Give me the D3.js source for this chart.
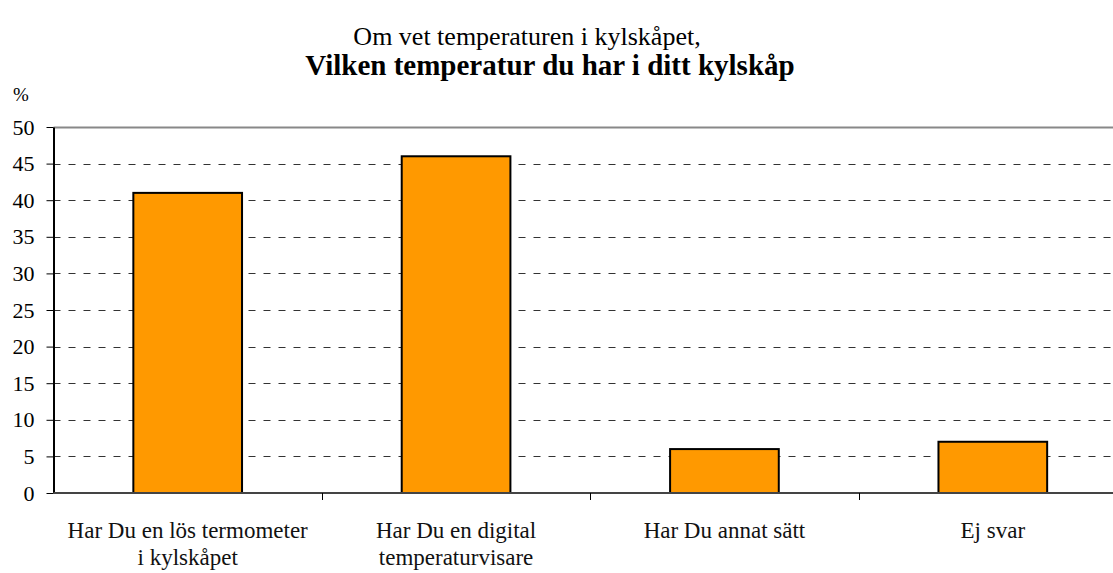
<!DOCTYPE html>
<html lang="sv">
<head>
  <meta charset="UTF-8">
  <title>Vilken temperatur du har i ditt kylskåp</title>
  <script src="https://d3js.org/d3.v7.min.js"></script>
  <style>
    body { margin: 0; background: #fff; }
    svg { display: block; }
  </style>
</head>
<body>
<svg id="chart" width="1113" height="573"></svg>
<script>
// Chart data
const categories = [
  ["Har Du en lös termometer", "i kylskåpet"],
  ["Har Du en digital", "temperaturvisare"],
  ["Har Du annat sätt"],
  ["Ej svar"]
];
const values = [41, 46, 6, 7];
const yTicks = [0, 5, 10, 15, 20, 25, 30, 35, 40, 45, 50];

const serif = "Liberation Serif, DejaVu Serif, Noto Serif, serif";

const svg = d3.select("#chart");
// plot area runs past the right edge of the picture, like the original
const margin = { top: 127, right: -14, bottom: 80, left: 53.5 };
const width = +svg.attr("width");
const height = +svg.attr("height");

const x = d3.scaleBand()
  .domain(d3.range(categories.length))
  .range([margin.left, width - margin.right])
  .paddingInner(0.595)
  .paddingOuter(0.2975);

const xOuter = d3.scaleBand()
  .domain(d3.range(categories.length))
  .range([margin.left, width - margin.right]);

const y = d3.scaleLinear()
  .domain([0, 50])
  .range([height - margin.bottom, margin.top]);

// Gridlines
svg.append("g")
  .selectAll("line")
  .data(yTicks.filter(d => d > 0))
  .join("line")
  .attr("x1", margin.left)
  .attr("x2", width - margin.right)
  .attr("y1", d => Math.round(y(d)) + 0.5)
  .attr("y2", d => Math.round(y(d)) + 0.5)
  .attr("stroke", d => d === 50 ? "#888" : "#333")
  .attr("stroke-width", d => d === 50 ? 2 : 1)
  .attr("stroke-dasharray", d => d === 50 ? null : "7,8");

// Bars
svg.append("g")
  .selectAll("rect")
  .data(values)
  .join("rect")
  .attr("x", (d, i) => x(i))
  .attr("y", d => y(d))
  .attr("width", x.bandwidth())
  .attr("height", d => y(0) - y(d))
  .attr("fill", "#ff9900")
  .attr("stroke", "#000")
  .attr("stroke-width", 2);

// Y axis
const yAxis = svg.append("g")
  .attr("transform", `translate(${margin.left},0)`)
  .call(d3.axisLeft(y).tickValues(yTicks).tickSize(7).tickSizeOuter(0));
yAxis.attr("font-family", null).attr("font-size", null);
yAxis.select(".domain").attr("stroke", "#000").attr("stroke-width", 2);
yAxis.selectAll(".tick line").attr("stroke", "#000");
yAxis.selectAll(".tick text")
  .attr("x", -19)
  .attr("fill", "#000")
  .style("font-family", serif)
  .style("font-size", "22px");

// X axis
const xAxisG = svg.append("g")
  .attr("transform", `translate(0,${y(0)})`);
xAxisG.append("line")
  .attr("x1", margin.left)
  .attr("x2", width - margin.right)
  .attr("stroke", "#444")
  .attr("stroke-width", 2);
xAxisG.selectAll(".xtick")
  .data(d3.range(1, categories.length))
  .join("line")
  .attr("class", "xtick")
  .attr("x1", i => Math.round(xOuter(i)) + 0.5)
  .attr("x2", i => Math.round(xOuter(i)) + 0.5)
  .attr("y1", 0)
  .attr("y2", 7)
  .attr("stroke", "#000");

const labels = xAxisG.selectAll(".xlabel")
  .data(categories)
  .join("text")
  .attr("class", "xlabel")
  .attr("text-anchor", "middle")
  .attr("fill", "#111")
  .style("font-family", serif)
  .style("font-size", "23px")
  .attr("transform", (d, i) => `translate(${xOuter(i) + xOuter.bandwidth() / 2},45)`);
labels.selectAll("tspan")
  .data(d => d)
  .join("tspan")
  .attr("x", 0)
  .attr("dy", (d, j) => j === 0 ? 0 : 27)
  .text(d => d);

// Unit label
svg.append("text")
  .attr("x", 13)
  .attr("y", 101)
  .attr("fill", "#000")
  .style("font-family", serif)
  .style("font-size", "19px")
  .text("%");

// Title
svg.append("text")
  .attr("x", 527)
  .attr("y", 45)
  .attr("text-anchor", "middle")
  .attr("fill", "#000")
  .style("font-family", serif)
  .style("font-size", "26px")
  .text("Om vet temperaturen i kylskåpet,");
svg.append("text")
  .attr("x", 550)
  .attr("y", 75)
  .attr("text-anchor", "middle")
  .attr("fill", "#000")
  .style("font-family", serif)
  .style("font-size", "29px")
  .style("font-weight", "bold")
  .text("Vilken temperatur du har i ditt kylskåp");
</script>
</body>
</html>
